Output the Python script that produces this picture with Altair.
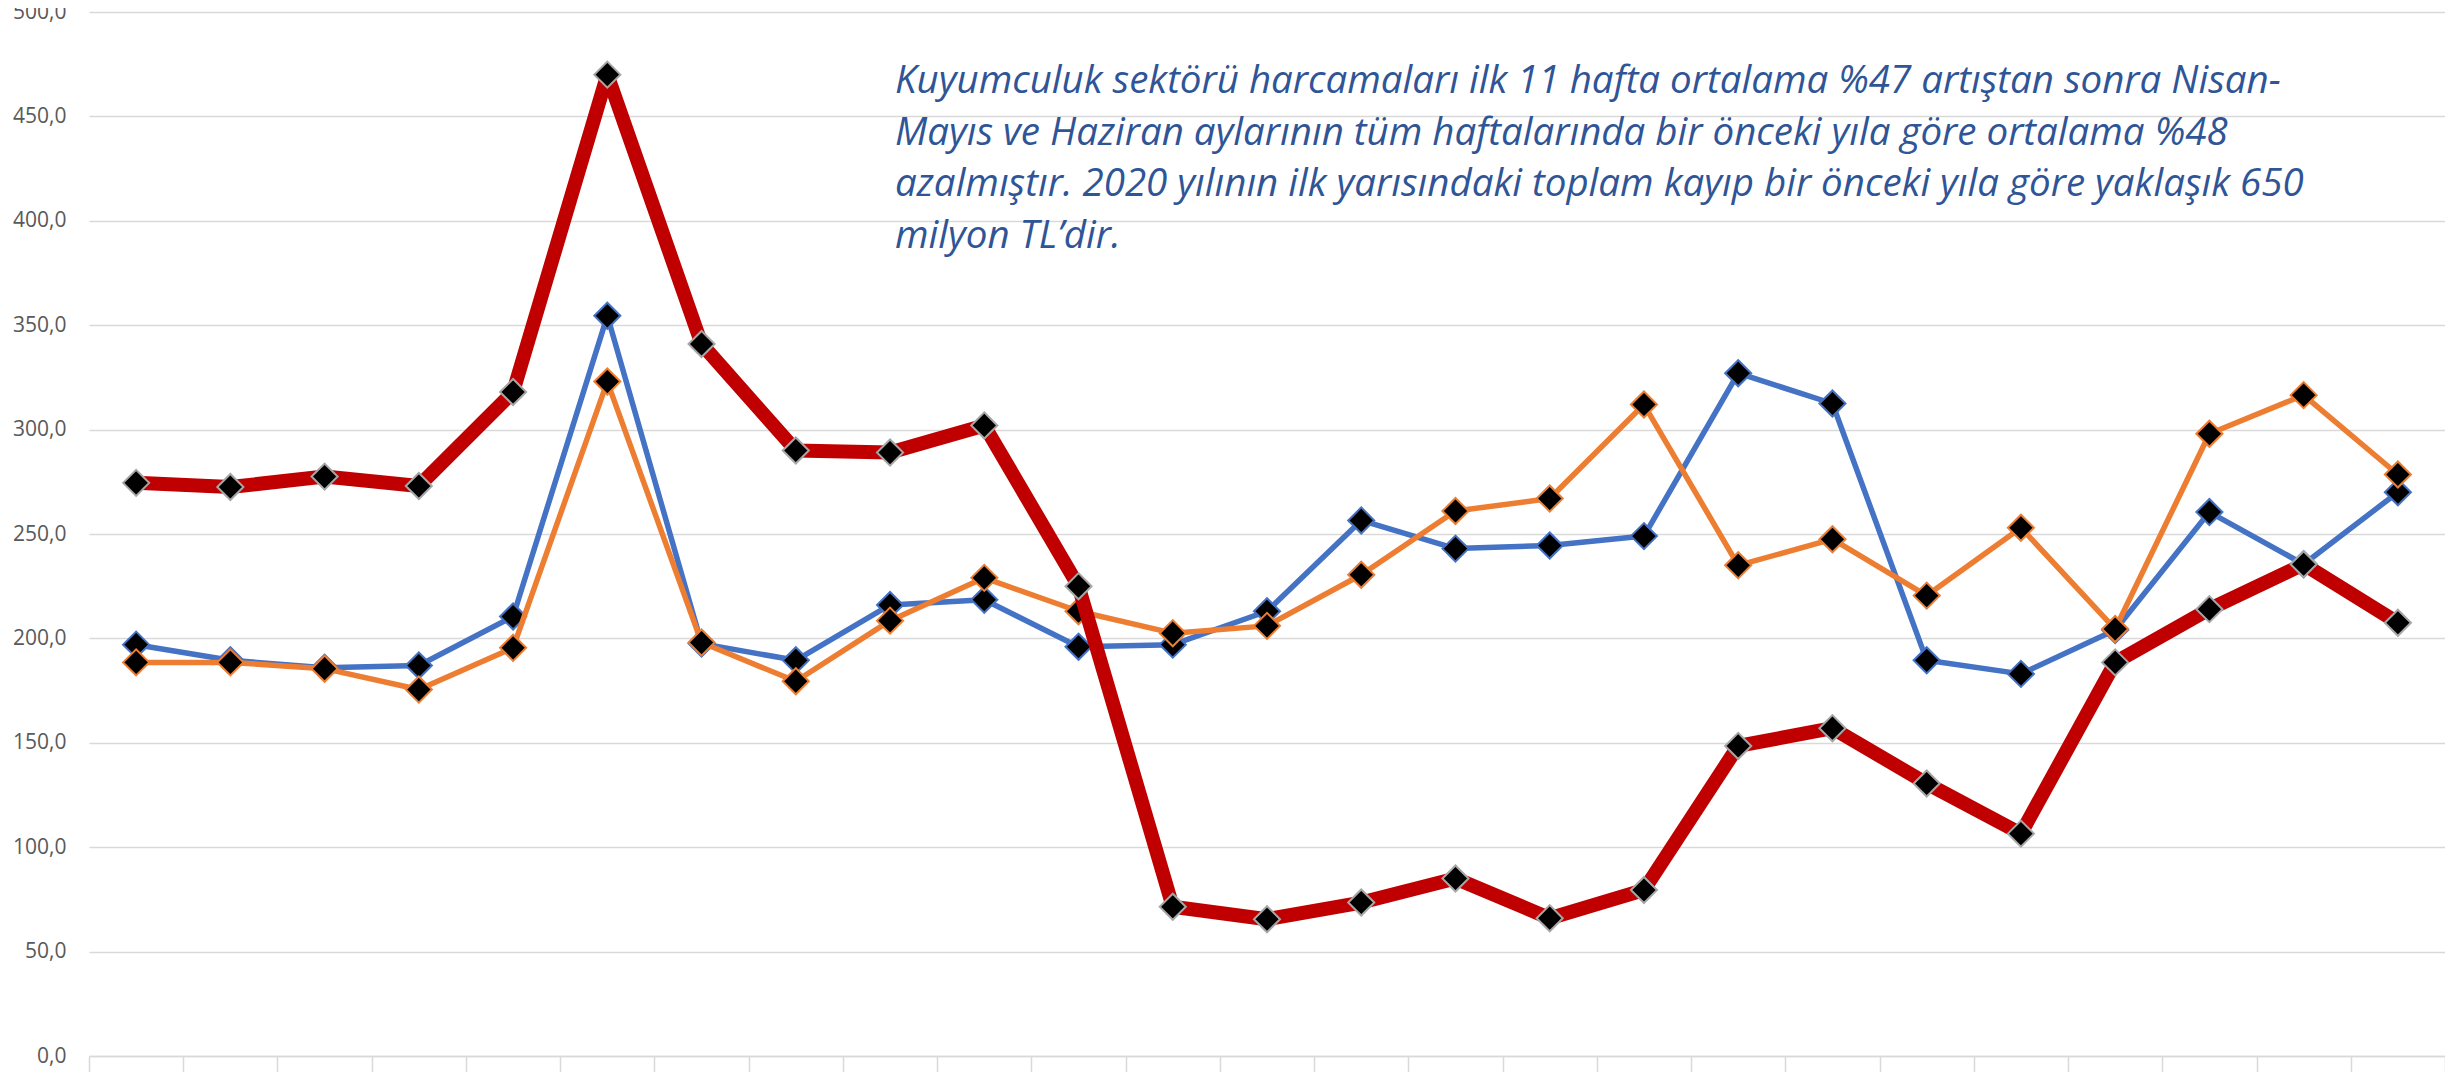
import altair as alt
import pandas as pd

weeks = [f"H {i}" for i in range(1, 26)]

blue_vals = [197, 189.5, 186, 187, 210.5, 354.5, 197.5, 189.5, 216, 218.5, 196, 197, 213, 256.5, 243, 244.5, 249, 327, 312.5, 189.5, 183, 204, 260.5, 235.5, 270]
orange_vals = [188.5, 188.5, 185.5, 175.5, 195.5, 323, 198, 179.5, 208.5, 229, 213, 202.5, 206, 230.5, 261, 267, 312, 235, 247.5, 220.5, 253, 204.5, 298, 316.5, 278.5]
red_vals = [274.5, 272.5, 277.5, 273, 318, 470, 341, 290, 289, 302, 225, 71.5, 65.5, 73.5, 85, 66, 79.5, 148.5, 157, 130.5, 106.5, 188.5, 214, 235.5, 207.5]

series_names = ["Seri 1", "Seri 2", "Seri 3"]
series_vals = [blue_vals, orange_vals, red_vals]
series_colors = ["#4472C4", "#ED7D31", "#C00000"]
marker_strokes = ["#4472C4", "#ED7D31", "#A6A6A6"]
line_widths = [5.5, 5.5, 14]

annotation = (
    "Kuyumculuk sektörü harcamaları ilk 11 hafta ortalama %47 artıştan sonra Nisan-\n"
    "Mayıs ve Haziran aylarının tüm haftalarında bir önceki yıla göre ortalama %48\n"
    "azalmıştır. 2020 yılının ilk yarısındaki toplam kayıp bir önceki yıla göre yaklaşık 650\n"
    "milyon TL’dir."
)

rows = []
for name, vals in zip(series_names, series_vals):
    for w, v in zip(weeks, vals):
        rows.append({"hafta": w, "deger": v, "seri": name})
df = pd.DataFrame(rows)

FONT = "Open Sans"

x_enc = alt.X(
    "hafta:N",
    sort=weeks,
    bandPosition=0.5,
    scale=alt.Scale(type="band", domain=weeks, paddingInner=0, paddingOuter=0),
    axis=alt.Axis(
        title=None,
        labelAngle=0,
        labelFont=FONT,
        labelFontSize=21,
        labelColor="#595959",
        labelPadding=4,
        domainColor="#D9D9D9",
        domainWidth=1.5,
        tickColor="#D9D9D9",
        tickWidth=1.5,
        tickSize=24,
        tickBand="extent",
        grid=False,
    ),
)
y_enc = alt.Y(
    "deger:Q",
    scale=alt.Scale(domain=[0, 500], nice=False, zero=True),
    axis=alt.Axis(
        title=None,
        values=list(range(0, 501, 50)),
        labelExpr="replace(format(datum.value, '.1f'), '.', ',')",
        labelFont=FONT,
        labelFontSize=21,
        labelColor="#595959",
        labelPadding=23,
        domain=False,
        ticks=False,
        grid=True,
        gridColor="#D9D9D9",
        gridWidth=1.6,
    ),
)

base = alt.Chart(df)
layers = []
for name, col, stroke, lw in zip(series_names, series_colors, marker_strokes, line_widths):
    sub = base.transform_filter(alt.datum.seri == name)
    layers.append(
        sub.mark_line(color=col, strokeWidth=lw, strokeJoin="round").encode(x=x_enc, y=y_enc)
    )
    layers.append(
        sub.mark_point(
            shape="diamond", filled=True, fill="black", stroke=stroke,
            strokeWidth=2, size=680, opacity=1, fillOpacity=1,
        ).encode(x=x_enc, y=y_enc)
    )

text_df = pd.DataFrame({"t": [annotation]})
note = alt.Chart(text_df).mark_text(
    align="left",
    baseline="alphabetic",
    font=FONT,
    fontSize=38.5,
    fontStyle="italic",
    color="#2F5597",
    lineBreak="\n",
    lineHeight=51.7,
).encode(text="t:N", x=alt.value(806), y=alt.value(81))

chart = alt.layer(*layers, note).properties(
    width=2356,
    height=1044,
    autosize=alt.AutoSizeParams(type="none"),
    padding={"left": 81, "top": 4, "right": 0, "bottom": 16},
).configure_view(stroke=None)

chart.save("out.html", embed_options={"renderer": "svg", "actions": False})
